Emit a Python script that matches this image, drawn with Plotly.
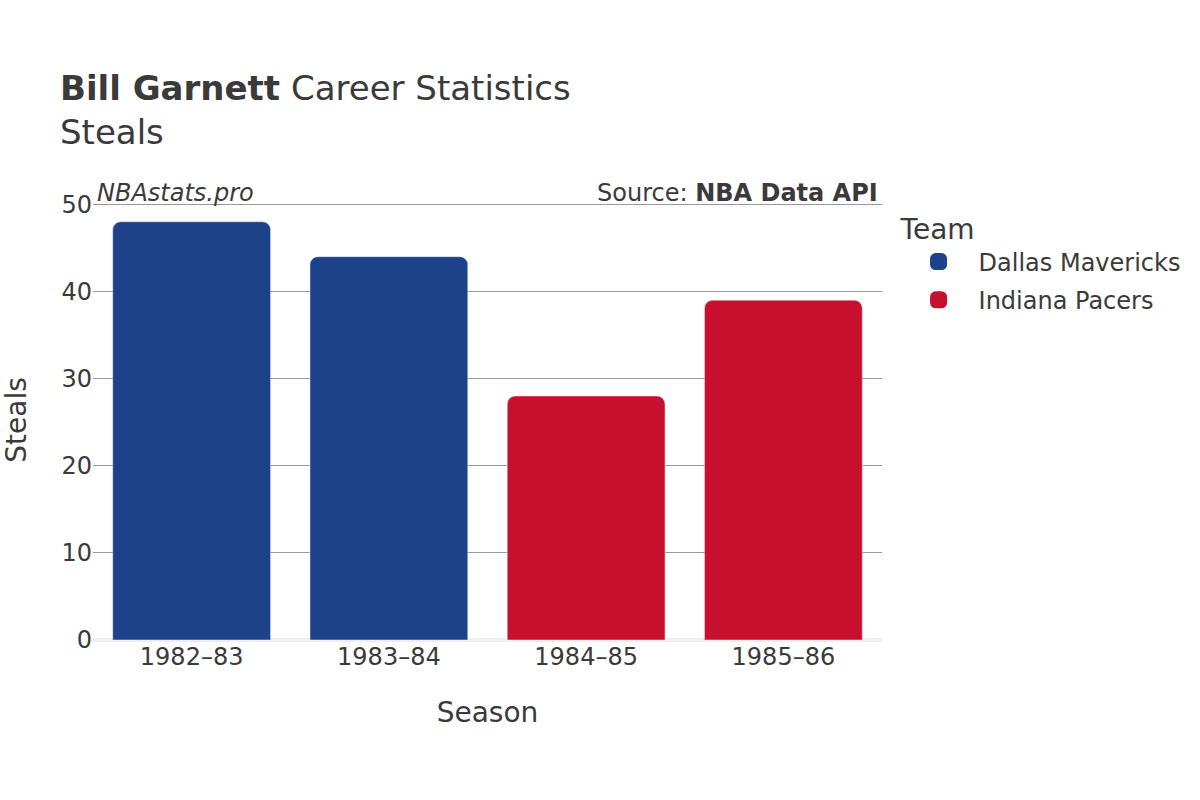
import plotly.graph_objects as go

seasons_dal = ["1982–83", "1983–84"]
steals_dal = [48, 44]
seasons_ind = ["1984–85", "1985–86"]
steals_ind = [28, 39]
all_seasons = ["1982–83", "1983–84", "1984–85", "1985–86"]
y_ticks = [0, 10, 20, 30, 40, 50]

font = "DejaVu Sans"
text_color = "#3a3a3a"
dal_color = "#1D428A"
ind_color = "#C8102E"


def main():
    fig = go.Figure()
    fig.add_bar(x=seasons_dal, y=steals_dal, name="Dallas Mavericks",
                marker_color=dal_color, showlegend=False)
    fig.add_bar(x=seasons_ind, y=steals_ind, name="Indiana Pacers",
                marker_color=ind_color, showlegend=False)

    # legend-only entries, thick outline makes the swatch bigger
    fig.add_bar(x=[None], y=[None], name="Dallas Mavericks", legendgroup="dal",
                marker=dict(color=dal_color, line=dict(color=dal_color, width=5)))
    fig.add_bar(x=[None], y=[None], name="Indiana Pacers", legendgroup="ind",
                marker=dict(color=ind_color, line=dict(color=ind_color, width=5)))

    fig.update_layout(
        width=1200, height=800,
        paper_bgcolor="white", plot_bgcolor="white",
        font=dict(family=font, color=text_color, size=24),
        barmode="relative", bargap=0.2, barcornerradius=8,
        margin=dict(l=93, r=318, t=200, b=160, autoexpand=False),
        title=dict(
            text="<b>Bill Garnett</b> Career Statistics<br>Steals",
            x=0.05, xanchor="left", y=0.875, yanchor="middle",
            font=dict(size=34, color=text_color),
        ),
        legend=dict(
            title=dict(text="Team", font=dict(size=28)),
            x=1.021, xanchor="left", y=0.993, yanchor="top",
            font=dict(size=24), itemwidth=70,
            traceorder="grouped", tracegroupgap=4,
        ),
        xaxis=dict(
            categoryorder="array", categoryarray=all_seasons,
            title=dict(text="Season", font=dict(size=28), standoff=32),
            showgrid=False, ticks="", tickfont=dict(size=24), automargin=False,
        ),
        yaxis=dict(
            range=[0, 50.5], tickvals=y_ticks,
            title=dict(text="Steals", font=dict(size=28), standoff=30),
            showgrid=True, gridcolor="#999999", gridwidth=1,
            zeroline=True, zerolinecolor="#eeeeee", zerolinewidth=4,
            tickfont=dict(size=24), automargin=False,
        ),
        annotations=[
            dict(text="<i>NBAstats.pro</i>", xref="paper", yref="paper",
                 x=0.003, y=0.979, xanchor="left", yanchor="bottom",
                 showarrow=False, font=dict(size=24, color=text_color)),
            dict(text="Source: <b>NBA Data API</b>", xref="paper", yref="paper",
                 x=0.997, y=0.979, xanchor="right", yanchor="bottom",
                 showarrow=False, font=dict(size=24, color=text_color)),
        ],
    )

    fig.write_html("out.html", config={"displayModeBar": False},
                   post_script="document.body.style.margin='0';")


if __name__ == "__main__":
    main()
